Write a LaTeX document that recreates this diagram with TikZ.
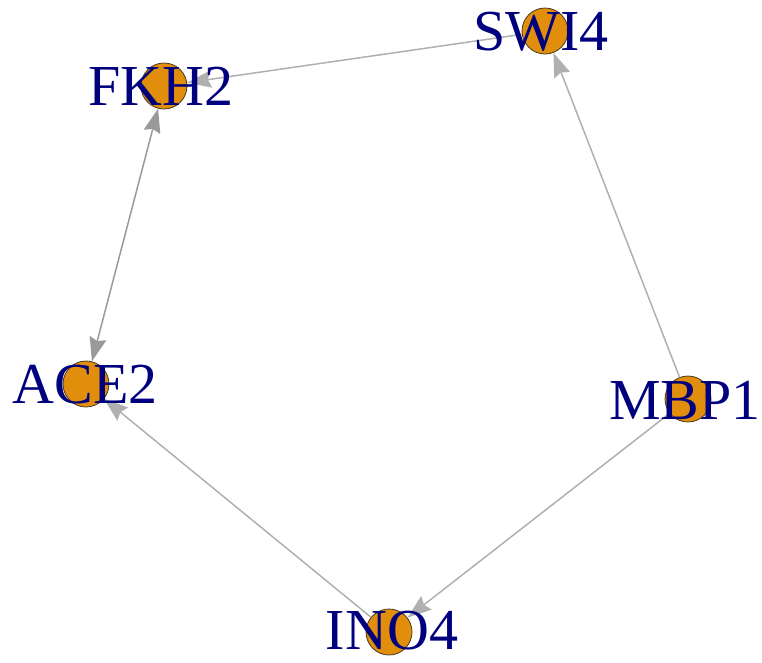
\documentclass[tikz,border=0pt]{standalone}
\usepackage{fontspec}
\setmainfont{Liberation Serif}
\usetikzlibrary{arrows.meta}
\definecolor{vfill}{HTML}{E08E0B}
\definecolor{vline}{HTML}{4A3A20}
\definecolor{elab}{HTML}{00007F}
\definecolor{ecol}{HTML}{B0B0B0}
\definecolor{ecold}{HTML}{9A9A9A}
\begin{document}
\begin{tikzpicture}[x=1pt,y=-1pt,
  vert/.style={circle,fill=vfill,draw=vline,line width=0.8pt,minimum size=46pt,inner sep=0pt},
  vlab/.style={text=elab,font=\fontsize{58}{62}\selectfont,inner sep=0pt},
  edge/.style={draw=ecol,line width=1.5pt,-{Stealth[length=24pt,width=17pt,inset=3pt]}},
  bedge/.style={draw=ecold,line width=1.5pt,{Stealth[length=24pt,width=17pt,inset=3pt]}-{Stealth[length=24pt,width=17pt,inset=3pt]}}]
\useasboundingbox (0,0) rectangle (762,662);
\node[vert] (swi4) at (545,31) {};
\node[vert] (fkh2) at (164,86) {};
\node[vert] (ace2) at (86,384) {};
\node[vert] (mbp1) at (688,399) {};
\node[vert] (ino4) at (389,632) {};
\draw[edge] (swi4) -- (fkh2);
\draw[edge] (mbp1) -- (swi4);
\draw[bedge] (fkh2) -- (ace2);
\draw[edge] (mbp1) -- (ino4);
\draw[edge] (ino4) -- (ace2);
\node[vlab] (lswi4) at (541,32) {SWI4};
\node[vlab] (lfkh2) at (161,86) {FKH2};
\node[vlab] (lace2) at (85,385) {ACE2};
\node[vlab] (lmbp1) at (685,400) {MBP1};
\node[vlab] (lino4) at (392,631) {INO4};
\end{tikzpicture}
\end{document}
